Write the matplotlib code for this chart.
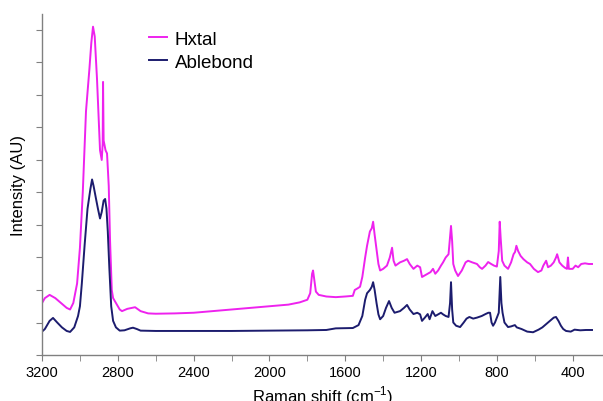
import numpy as np
import matplotlib
matplotlib.use("Agg")
import matplotlib.pyplot as plt
from matplotlib.ticker import MultipleLocator

plt.rcParams['font.family'] = ['Liberation Sans', 'DejaVu Sans']
plt.rcParams['mathtext.fontset'] = 'custom'
plt.rcParams['mathtext.rm'] = 'Liberation Sans'

# ---- data (Raman shift in cm-1, intensity in arbitrary units) ----
hx_wn = [3200, 3185, 3160, 3130, 3100, 3070, 3052, 3035, 3015, 3000, 2985, 2968, 2950, 2940,
         2931, 2922, 2910, 2894, 2885, 2880, 2878, 2875, 2865, 2857, 2848, 2841, 2832, 2825,
         2810, 2790, 2778, 2750, 2709, 2680, 2640, 2600, 2500, 2400, 2300, 2200, 2100, 2000,
         1900, 1840, 1800, 1785, 1775, 1770, 1763, 1755, 1740, 1700, 1650, 1600, 1560, 1550,
         1535, 1522, 1510, 1495, 1485, 1470, 1460, 1453, 1445, 1435, 1425, 1416, 1400, 1380,
         1365, 1353, 1345, 1335, 1311, 1290, 1274, 1260, 1240, 1220, 1205, 1195, 1180, 1165,
         1150, 1137, 1125, 1110, 1095, 1084, 1070, 1055, 1046, 1042, 1036, 1030, 1020, 1005,
         985, 965, 952, 930, 905, 890, 878, 860, 846, 830, 815, 800, 790, 785, 780, 772, 760,
         741, 725, 712, 704, 697, 688, 675, 660, 640, 625, 605, 583, 565, 555, 540, 530, 515,
         500, 488, 482, 470, 455, 440, 430, 425, 420, 400, 385, 371, 355, 335, 315, 298]
hx_int = [1.6, 1.75, 1.85, 1.75, 1.6, 1.45, 1.4, 1.6, 2.2, 3.3, 5.0, 7.5, 8.8, 9.6,
          10.1, 9.8, 8.5, 6.3, 6.0, 6.5, 8.4, 6.6, 6.3, 6.2, 5.2, 3.5, 2.0, 1.75,
          1.6, 1.4, 1.35, 1.42, 1.47, 1.35, 1.28, 1.27, 1.28, 1.3, 1.35, 1.4, 1.45, 1.5,
          1.55, 1.62, 1.7, 1.9, 2.5, 2.6, 2.3, 1.95, 1.85, 1.8, 1.78, 1.8, 1.82, 2.0,
          2.05, 2.1, 2.4, 3.0, 3.36, 3.8, 3.9, 4.1, 3.7, 3.26, 2.8, 2.6, 2.65, 2.75,
          3.0, 3.3, 2.9, 2.75, 2.85, 2.9, 2.95, 2.8, 2.65, 2.75, 2.7, 2.4, 2.45, 2.5,
          2.55, 2.65, 2.5, 2.6, 2.75, 2.85, 3.0, 3.1, 3.7, 3.97, 3.5, 2.8, 2.6, 2.43,
          2.6, 2.85, 2.9, 2.85, 2.8, 2.7, 2.65, 2.75, 2.86, 2.8, 2.75, 2.72, 3.2, 4.1, 3.6, 2.9, 2.75,
          2.65, 2.85, 3.1, 3.17, 3.36, 3.2, 3.05, 2.95, 2.85, 2.8, 2.65, 2.55, 2.6, 2.75, 2.9, 2.7, 2.75,
          2.85, 3.0, 3.1, 2.85, 2.75, 2.68, 2.65, 3.0, 2.65, 2.65, 2.75, 2.7, 2.8, 2.82, 2.8, 2.8]

ab_wn = [3200, 3185, 3160, 3142, 3120, 3095, 3070, 3052, 3030, 3010, 3000, 2990, 2975, 2960,
         2945, 2936, 2928, 2915, 2905, 2894, 2885, 2875, 2867, 2860, 2853, 2845, 2835, 2825,
         2810, 2790, 2765, 2735, 2720, 2700, 2680, 2600, 2400, 2200, 2000, 1800, 1700, 1650,
         1560, 1530, 1510, 1495, 1485, 1470, 1460, 1453, 1445, 1435, 1425, 1416, 1400, 1385,
         1369, 1355, 1340, 1311, 1290, 1274, 1260, 1240, 1220, 1205, 1195, 1180, 1165, 1155,
         1140, 1125, 1110, 1095, 1084, 1070, 1055, 1047, 1042, 1036, 1030, 1015, 994, 975,
         960, 945, 925, 905, 880, 860, 845, 836, 828, 820, 810, 800, 790, 782, 776, 770,
         760, 741, 725, 705, 695, 670, 640, 609, 580, 560, 540, 520, 500, 488, 475, 462,
         450, 435, 410, 390, 360, 330, 298]
ab_int = [0.72, 0.8, 1.05, 1.14, 1.0, 0.85, 0.74, 0.71, 0.85, 1.2, 1.5, 2.2, 3.4, 4.5,
          5.1, 5.4, 5.2, 4.8, 4.5, 4.2, 4.4, 4.75, 4.8, 4.5, 3.8, 2.7, 1.5, 1.05,
          0.85, 0.75, 0.76, 0.82, 0.84, 0.8, 0.75, 0.74, 0.74, 0.74, 0.75, 0.76, 0.77, 0.82,
          0.83, 0.92, 1.2, 1.7, 1.9, 2.0, 2.1, 2.24, 2.0, 1.6, 1.25, 1.1, 1.2, 1.45,
          1.66, 1.45, 1.3, 1.35, 1.45, 1.54, 1.4, 1.26, 1.3, 1.25, 1.05, 1.15, 1.26, 1.1,
          1.35, 1.2, 1.25, 1.3, 1.25, 1.2, 1.17, 1.6, 2.24, 1.4, 1.0, 0.9, 0.86, 1.0,
          1.12, 1.17, 1.12, 1.15, 1.2, 1.26, 1.3, 1.3, 1.0, 0.9, 1.0, 1.15, 1.3, 2.4, 1.6, 1.3,
          1.0, 0.86, 0.88, 0.92, 0.85, 0.8, 0.72, 0.7, 0.78, 0.85, 0.95, 1.05, 1.15, 1.17, 1.05, 0.9,
          0.8, 0.74, 0.72, 0.78, 0.76, 0.77, 0.77]

labels = ['Hxtal', 'Ablebond']
x_ticks = [3200, 2800, 2400, 2000, 1600, 1200, 800, 400]

fig = plt.figure(figsize=(6.03, 4.02), dpi=100)
ax = fig.add_axes([0.0697, 0.1144, 0.9303, 0.8483])

ax.plot(hx_wn, hx_int, color='#ee22ee', lw=1.4, label=labels[0])
ax.plot(ab_wn, ab_int, color='#1c1c6e', lw=1.4, label=labels[1])

ax.set_xlim(3200, 240)
ax.set_ylim(0, 10.49)
ax.set_xticks(x_ticks)
ax.xaxis.set_minor_locator(MultipleLocator(200))
ax.yaxis.set_major_locator(MultipleLocator(1))
ax.set_yticklabels([])

for s in ['top', 'right']:
    ax.spines[s].set_visible(False)
for s in ['left', 'bottom']:
    ax.spines[s].set_color('#808080')
    ax.spines[s].set_linewidth(1.0)
ax.tick_params(axis='x', which='both', direction='out', length=4, color='#808080',
               labelsize=10.5, pad=3)
ax.tick_params(axis='y', which='both', direction='out', length=4, color='#808080')

ax.set_xlabel('Raman shift (cm$^{-1}$)', fontsize=12, labelpad=3)
ax.set_ylabel('Intensity (AU)', fontsize=12, labelpad=4)

ax.legend(loc='upper left', bbox_to_anchor=(0.16, 1.0), frameon=False, fontsize=13.5,
          handlelength=1.0, handletextpad=0.4, labelspacing=0.3)

fig.savefig('out.png', dpi=100)
